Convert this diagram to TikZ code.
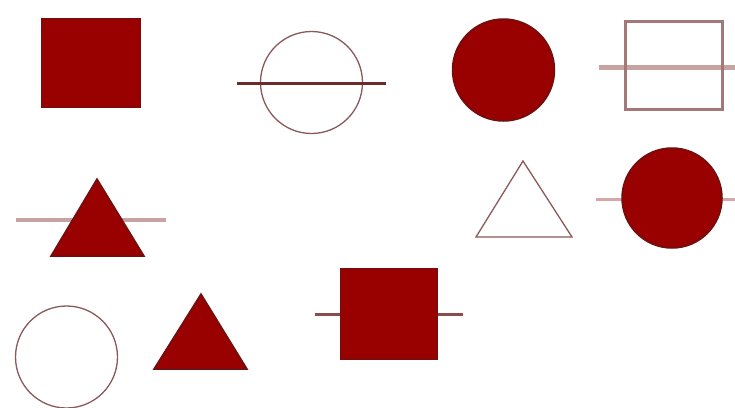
\documentclass[tikz,border=0pt]{standalone}
\usetikzlibrary{shapes.geometric}
\definecolor{fillred}{HTML}{990000}
\definecolor{edgered}{HTML}{6E1010}
\definecolor{openedge}{HTML}{8A5A5A}
\definecolor{darkbar}{HTML}{6B2B2B}
\definecolor{midbar}{HTML}{8A4C4C}
\definecolor{palebar}{HTML}{C9A2A2}
\definecolor{lightbar}{HTML}{D9A6A6}
\definecolor{rectedge}{HTML}{A27878}
\tikzset{
  solidshape/.style={fill=fillred, draw=edgered, line width=1.5pt},
  openshape/.style={draw=openedge, line width=1.3pt},
  bar/.style={line width=#1},
}
\begin{document}
\begin{tikzpicture}[x=1pt,y=-1pt]
\useasboundingbox[fill=white] (0,0) rectangle (735,407);
% 1 filled square
\node[solidshape, rectangle, minimum width=99pt, minimum height=89pt, inner sep=0pt] (sq1) at (91,63) {};
% 2 open circle with bar
\node[openshape, circle, minimum size=102pt, inner sep=0pt] (c2) at (311.5,82.5) {};
\coordinate (c2l) at (237,83); \coordinate (c2r) at (386,83);
\draw[darkbar, bar=3pt] (c2l) -- (c2r);
% 3 filled circle
\node[solidshape, circle, minimum size=102pt, inner sep=0pt] (c3) at (503.5,70) {};
% 4 open rectangle with pale bar
\coordinate (r4l) at (599,67); \coordinate (r4r) at (735,67);
\draw[palebar, bar=5pt] (r4l) -- (r4r);
\node[draw=rectedge, line width=2.3pt, rectangle, minimum width=97pt, minimum height=88pt, inner sep=0pt] (r4) at (674,65.5) {};
% 5 open triangle
\coordinate (t5a) at (523,161); \coordinate (t5b) at (476,237); \coordinate (t5c) at (572,237);
\draw[openshape, line join=miter] (t5a) -- (t5b) -- (t5c) -- cycle;
% 6 filled circle with bar
\coordinate (c6l) at (596,199); \coordinate (c6r) at (735,199);
\draw[lightbar, bar=3pt] (c6l) -- (c6r);
\node[solidshape, circle, minimum size=100pt, inner sep=0pt] (c6) at (672,198) {};
% 7 filled triangle with bar
\coordinate (t7l) at (16,220); \coordinate (t7r) at (166,220);
\draw[palebar, bar=4pt] (t7l) -- (t7r);
\coordinate (t7a) at (97,179); \coordinate (t7b) at (51,256); \coordinate (t7c) at (144,256);
\draw[solidshape] (t7a) -- (t7b) -- (t7c) -- cycle;
% 8 open circle
\node[openshape, circle, minimum size=102pt, inner sep=0pt] (c8) at (66.5,357) {};
% 9 filled triangle
\coordinate (t9a) at (201,294); \coordinate (t9b) at (154,369); \coordinate (t9c) at (247,369);
\draw[solidshape] (t9a) -- (t9b) -- (t9c) -- cycle;
% 10 filled square with bar
\coordinate (s10l) at (315,314); \coordinate (s10r) at (463,314);
\draw[midbar, bar=3pt] (s10l) -- (s10r);
\node[solidshape, rectangle, minimum width=97pt, minimum height=91pt, inner sep=0pt] (s10) at (389,314) {};
\end{tikzpicture}
\end{document}
